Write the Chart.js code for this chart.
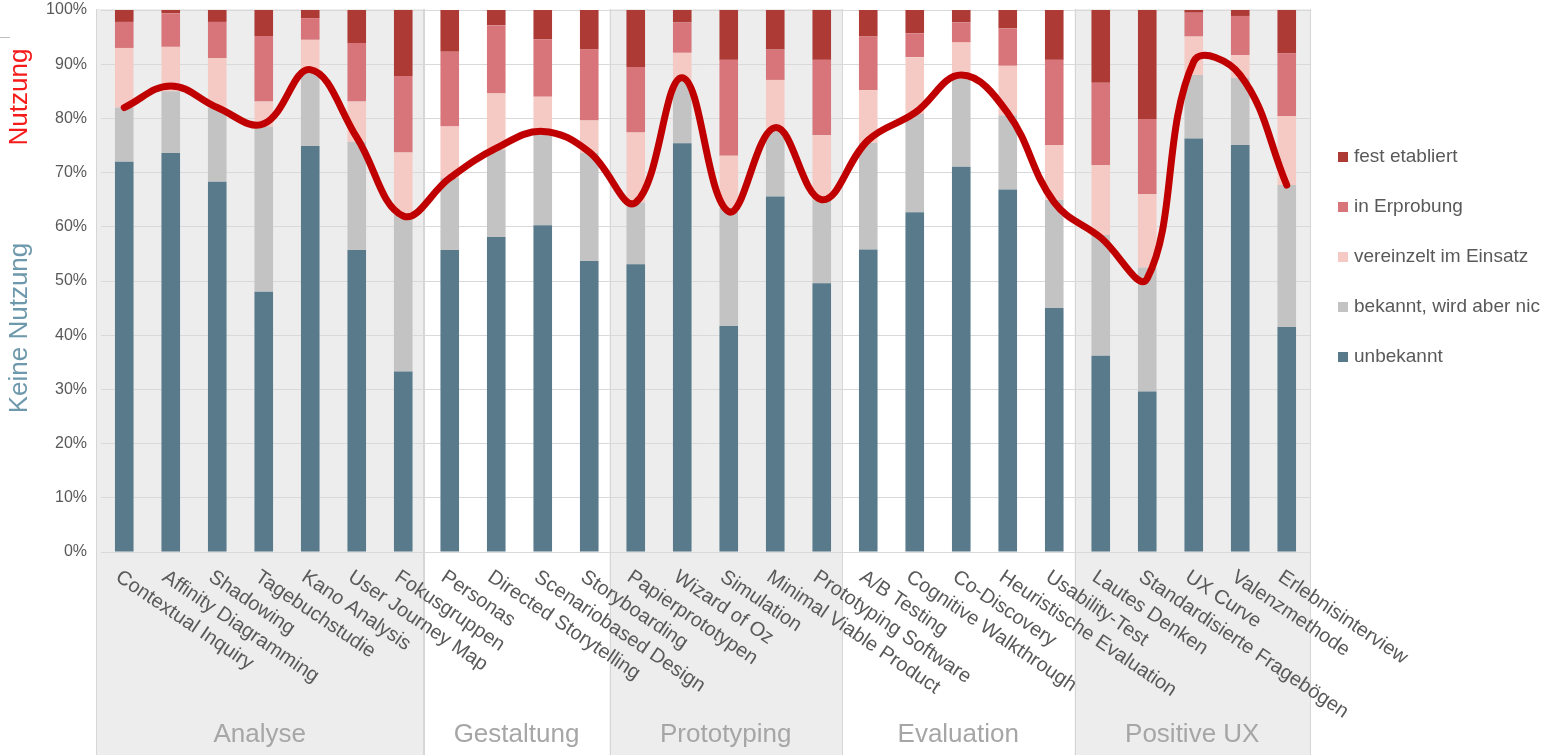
<!DOCTYPE html>
<html>
<head>
<meta charset="utf-8">
<script src="https://cdn.jsdelivr.net/npm/chart.js@4"></script>
<style>
  html, body { margin: 0; padding: 0; background: #ffffff; overflow: hidden; }
  canvas { display: block; }
</style>
</head>
<body>
<canvas id="chart" width="1541" height="755"></canvas>
<script>
// Methoden, gruppiert nach Phase
const categories = [
    'Contextual Inquiry', 'Affinity Diagramming', 'Shadowing', 'Tagebuchstudie', 'Kano Analysis',
    'User Journey Map', 'Fokusgruppen',
    'Personas', 'Directed Storytelling', 'Scenariobased Design', 'Storyboarding',
    'Papierprototypen', 'Wizard of Oz', 'Simulation', 'Minimal Viable Product', 'Prototyping Software',
    'A/B Testing', 'Cognitive Walkthrough', 'Co-Discovery', 'Heuristische Evaluation', 'Usability-Test',
    'Lautes Denken', 'Standardisierte Fragebögen', 'UX Curve', 'Valenzmethode', 'Erlebnisinterview'
];
const groupNames = ['Analyse', 'Gestaltung', 'Prototyping', 'Evaluation', 'Positive UX'];
const groupSizes = [7, 4, 5, 5, 5];

const seriesNames = ['unbekannt', 'bekannt, wird aber nicht genutzt', 'vereinzelt im Einsatz', 'in Erprobung', 'fest etabliert'];
const seriesColors = ['#587a8a', '#c3c3c3', '#f6cac4', '#d8757a', '#ad3a35'];

// Anteile in Prozent
const unbekannt = [72, 73.6, 68.3, 48, 74.9, 55.7, 33.3, 55.7, 58.1, 60.3, 53.7, 53.1, 75.4, 41.7, 65.6, 49.6, 55.8, 62.7, 71.1, 66.9, 45, 36.2, 29.6, 76.3, 75.1, 41.5];
const bekannt = [10, 11.4, 13.7, 30.5, 13.6, 20, 29.2, 13.3, 16.1, 16.9, 19.9, 11.4, 11.6, 21.8, 12.2, 15.4, 19.7, 18.1, 16.2, 13.7, 20, 22.3, 22.9, 11.7, 12.4, 26.2];
const vereinzelt = [11, 8.2, 9.1, 4.6, 6, 7.4, 11.2, 9.5, 10.4, 6.8, 6, 12.9, 5.1, 9.6, 9.3, 11.9, 9.7, 10.5, 6.7, 9.1, 10.1, 12.9, 13.5, 7.1, 4.2, 12.7];
const erprobung = [4.8, 6.2, 6.7, 12.1, 4, 10.8, 14.1, 13.8, 12.6, 10.6, 13.1, 12.1, 5.6, 17.7, 5.6, 13.9, 9.9, 4.4, 3.7, 6.9, 15.7, 15.2, 13.9, 4.4, 7.2, 11.6];
const festEtabliert = [2.2, 0.6, 2.2, 4.8, 1.5, 6.1, 12.2, 7.7, 2.8, 5.4, 7.3, 10.5, 2.3, 9.2, 7.3, 9.2, 4.9, 4.3, 2.3, 3.4, 9.2, 13.4, 20.1, 0.5, 1.1, 8];

// Grenze Nutzung / keine Nutzung (rote Linie)
const nutzungsGrenze = [82, 86, 82, 79, 89, 76.5, 62, 69, 74.5, 77.6, 73.8, 64.5, 87.5, 62.8, 78.3, 65, 76, 81, 88, 81, 64.5, 58, 50.5, 90.5, 88, 67.7];

const FONT = '"Liberation Sans", Arial, sans-serif';
const TEXT_GRAY = '#595959';

const seriesValues = [unbekannt, bekannt, vereinzelt, erprobung, festEtabliert];
const barSets = seriesValues.map((vals, i) => ({
    type: 'bar',
    label: seriesNames[i],
    data: vals,
    backgroundColor: seriesColors[i],
    borderWidth: 0,
    stack: 'bars',
    order: 1,
    barPercentage: 0.4,
    categoryPercentage: 1.0
}));

const lineSet = {
    type: 'line',
    label: 'Nutzung',
    data: nutzungsGrenze,
    borderColor: '#c00000',
    borderWidth: 7,
    borderCapStyle: 'round',
    borderJoinStyle: 'round',
    pointRadius: 0,
    fill: false,
    tension: 0.4,
    stack: 'line',
    order: 0
};

// backgrounds, labels and legend drawn around the chart
const decor = {
    id: 'decor',
    beforeDraw(chart) {
        const ctx = chart.ctx;
        const xs = chart.scales.x;
        const area = chart.chartArea;
        const half = (xs.getPixelForValue(1) - xs.getPixelForValue(0)) / 2;
        ctx.save();
        let start = 0;
        groupSizes.forEach((n, g) => {
            const end = start + n - 1;
            let left = xs.getPixelForValue(start) - half - 3;
            let right = xs.getPixelForValue(end) + half - 3;
            if (g === 0) left = xs.getPixelForValue(0) - half - 5;
            if (g === groupSizes.length - 1) right = xs.getPixelForValue(end) + half;
            if (g % 2 === 0) {
                ctx.fillStyle = '#ededed';
                ctx.fillRect(left, area.top - 1, right - left, chart.height - area.top + 1);
            }
            ctx.strokeStyle = '#d6d6d6';
            ctx.lineWidth = 1;
            ctx.beginPath();
            ctx.moveTo(Math.round(left) + 0.5, area.top - 1);
            ctx.lineTo(Math.round(left) + 0.5, chart.height);
            ctx.moveTo(Math.round(right) + 0.5, area.top - 1);
            ctx.lineTo(Math.round(right) + 0.5, chart.height);
            ctx.stroke();
            // group label
            ctx.fillStyle = '#a6a6a6';
            ctx.font = '26px ' + FONT;
            ctx.textAlign = 'center';
            ctx.textBaseline = 'middle';
            ctx.fillText(groupNames[g], (left + right) / 2, 735);
            start += n;
        });
        // small remnant line top left
        ctx.strokeStyle = '#bfbfbf';
        ctx.beginPath();
        ctx.moveTo(0, 37.5);
        ctx.lineTo(10, 37.5);
        ctx.stroke();
        ctx.restore();
    },
    afterDraw(chart) {
        const ctx = chart.ctx;
        const xs = chart.scales.x;
        const area = chart.chartArea;
        ctx.save();
        // rotated category labels
        ctx.fillStyle = TEXT_GRAY;
        ctx.font = '20px ' + FONT;
        ctx.textAlign = 'left';
        ctx.textBaseline = 'top';
        categories.forEach((c, i) => {
            ctx.save();
            ctx.translate(xs.getPixelForValue(i) - 1, area.bottom + 15);
            ctx.rotate(34 * Math.PI / 180);
            ctx.fillText(c, 0, 0);
            ctx.restore();
        });
        // axis titles
        ctx.font = '26px ' + FONT;
        ctx.textAlign = 'center';
        ctx.textBaseline = 'middle';
        ctx.save();
        ctx.translate(20, 97);
        ctx.rotate(-Math.PI / 2);
        ctx.fillStyle = '#f51b1b';
        ctx.fillText('Nutzung', 0, 0);
        ctx.restore();
        ctx.save();
        ctx.translate(20, 328);
        ctx.rotate(-Math.PI / 2);
        ctx.fillStyle = '#6e98ab';
        ctx.fillText('Keine Nutzung', 0, 0);
        ctx.restore();
        // legend, top item = last stacked series
        ctx.font = '19px ' + FONT;
        ctx.textAlign = 'left';
        ctx.textBaseline = 'middle';
        const items = chart.data.datasets.filter(d => d.type === 'bar').slice().reverse();
        items.forEach((d, k) => {
            const y = 157 + k * 50;
            ctx.fillStyle = d.backgroundColor;
            ctx.fillRect(1338, y - 5, 10, 10);
            ctx.fillStyle = TEXT_GRAY;
            ctx.fillText(d.label, 1354, y);
        });
        ctx.restore();
    }
};

const chart = new Chart(document.getElementById('chart').getContext('2d'), {
    data: {
        labels: categories,
        datasets: [...barSets, lineSet]
    },
    options: {
        responsive: false,
        animation: false,
        devicePixelRatio: 1,
        layout: { padding: { top: 10, right: 231, left: 0, bottom: 0 } },
        plugins: {
            legend: { display: false },
            tooltip: { enabled: false }
        },
        scales: {
            x: {
                stacked: true,
                grid: { display: false },
                ticks: { display: false },
                border: { display: true, color: '#d9d9d9' },
                afterFit: s => { s.height = 203; s.paddingLeft = 0; s.paddingRight = 0; }
            },
            y: {
                stacked: true,
                min: 0,
                max: 100,
                ticks: {
                    stepSize: 10,
                    padding: 14,
                    color: TEXT_GRAY,
                    font: { size: 16, family: FONT },
                    callback: v => v + '%'
                },
                grid: { color: '#d9d9d9', drawTicks: false },
                border: { display: false },
                afterFit: s => { s.width = 101; s.paddingTop = 0; s.paddingBottom = 0; }
            }
        }
    },
    plugins: [decor]
});
</script>
</body>
</html>
